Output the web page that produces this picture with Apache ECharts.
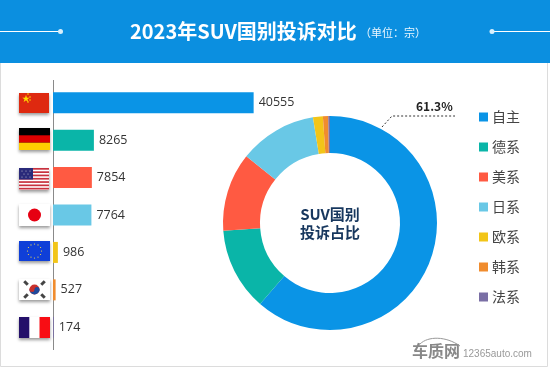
<!DOCTYPE html>
<html><head><meta charset="utf-8">
<style>html,body{margin:0;padding:0;background:#fff}#c{width:550px;height:368px}</style>
<script src="https://cdn.jsdelivr.net/npm/echarts@6/dist/echarts.min.js"></script>
</head><body><div id="c"></div>
<script>
const categories = ['自主','德系','美系','日系','欧系','韩系','法系'];
const complaints = [40555,8265,7854,7764,986,527,174];
const palette = ['#0a94e6','#0ab5a8','#ff5a42','#69c8e6','#f2c518','#f08c2e','#7a6fa5'];
const titleText = '2023年SUV国别投诉对比';
const unitText = '（单位：宗）';
const centerText = 'SUV国别\n投诉占比';
const total = complaints.reduce((a,b)=>a+b,0);
const shareText = (complaints[0]/total*100).toFixed(1)+'%';
const FONT = '"Noto Sans CJK SC","Noto Sans",sans-serif';

const shadow = {shadowBlur:3, shadowColor:'rgba(0,0,0,.4)', shadowOffsetY:2, shadowOffsetX:0};
function rect(x,y,w,h,fill,extra){return {type:'rect',silent:true,shape:{x,y,width:w,height:h},style:Object.assign({fill},extra||{})};}
function circle(cx,cy,r,fill){return {type:'circle',silent:true,shape:{cx,cy,r},style:{fill}};}
const g = [];
// page frame and header
g.push(rect(0.5,0.5,547,366,'#fff',{stroke:'#dcdcdc',lineWidth:1}));
g.push(rect(0,0,550,63,'#0b8fe0'));
g.push({type:'line',silent:true,shape:{x1:0,y1:31.5,x2:60,y2:31.5},style:{stroke:'#fff',lineWidth:1}});
g.push({type:'line',silent:true,shape:{x1:492,y1:31.5,x2:550,y2:31.5},style:{stroke:'#fff',lineWidth:1}});
g.push(circle(60.5,31.5,2.5,'#d8effc'));g.push(circle(492,31.5,2.5,'#d8effc'));
g.push({type:'text',silent:true,style:{x:130,y:31,text:titleText,fill:'#fff',font:'bold 20px '+FONT,verticalAlign:'middle'}});
g.push({type:'text',silent:true,style:{x:360,y:33,text:unitText,fill:'#eaf6fe',font:'11px '+FONT,verticalAlign:'middle'}});
// axis rule
g.push({type:'line',silent:true,shape:{x1:53.5,y1:80,x2:53.5,y2:350},style:{stroke:'#8a8a8a',lineWidth:1}});
// flags
g.push(rect(19,93,30,20,'#de2910',shadow));
g.push({type:'text',silent:true,style:{x:22,y:94,text:'★',fill:'#ffde00',font:'8px '+FONT}});
[[28,94],[30,97],[30,100],[28,102]].forEach(p=>g.push(circle(p[0],p[1],.8,'#ffde00')));
g.push(rect(19,128,31,22,'#000',shadow));g.push(rect(19,135.3,31,7.4,'#dd0000'));g.push(rect(19,142.7,31,7.3,'#ffce00'));
g.push(rect(19,168,30,22,'#fff',shadow));
for(let i=0;i<7;i+=1)g.push(rect(19,168+i*3.3,30,1.7,'#c8313e'));
g.push(rect(19,168,14,11.5,'#2a2a7a'));
[[22,171],[26,171],[30,171],[24,174],[28,174],[22,177],[26,177],[30,177]].forEach(p=>g.push(circle(p[0],p[1],.5,'#ddd')));
g.push(rect(19,204,31,22,'#fff',shadow));g.push(circle(34.5,215,6.5,'#e60012'));
g.push(rect(19,241,31,20,'#0f3fd8',shadow));
for(let i=0;i<12;i+=1){const a=i/12*Math.PI*2;g.push(circle(34.5+7*Math.cos(a),251+7*Math.sin(a),.6,'#ffe14a'));}
g.push(rect(19,279,31,21,'#fff',shadow));
g.push(circle(34.5,289.5,5,'#c9302c'));
g.push({type:'sector',silent:true,shape:{cx:34.5,cy:289.5,r:5,r0:0,startAngle:0,endAngle:Math.PI},style:{fill:'#1f4a9c'}});
g.push(circle(32,289.5,2.5,'#c9302c'));g.push(circle(37,289.5,2.5,'#1f4a9c'));
[[26,283],[43,283],[26,296],[43,296]].forEach(p=>g.push({type:'rect',silent:true,rotation:(p[0]<30)===(p[1]<290)?-Math.PI/4:Math.PI/4,originX:p[0],originY:p[1],shape:{x:p[0]-2.5,y:p[1]-1.5,width:5,height:3},style:{fill:'#444'}}));
g.push(rect(19,317,31,21,'#fff',shadow));g.push(rect(19,317,10.3,21,'#24106a'));g.push(rect(39.5,317,10.5,21,'#f80d14'));
// pie callout
g.push({type:'polyline',silent:true,shape:{points:[[382,127],[392,116],[455,116]]},style:{stroke:'#333',lineWidth:1,lineDash:[2,2],fill:'none'}});
g.push({type:'text',silent:true,style:{x:416,y:106,text:shareText,fill:'#222',font:'bold 12px '+FONT,verticalAlign:'middle'}});
// watermark
g.push({type:'text',silent:true,style:{x:412,y:351,text:'车质网',fill:'#888',font:'bold 16px '+FONT,verticalAlign:'middle'}});
g.push({type:'text',silent:true,style:{x:463,y:354,text:'12365auto.com',fill:'#999',font:'10px "Liberation Sans",sans-serif',verticalAlign:'middle'}});
g.push({type:'bezierCurve',silent:true,shape:{x1:420,y1:344,cpx1:428,cpy1:336,cpx2:446,cpy2:336,x2:460,y2:346},style:{stroke:'#999',lineWidth:1,fill:'none'}});

const chart = echarts.init(document.getElementById('c'),null,{renderer:'canvas'});
chart.setOption({
  animation:false,
  backgroundColor:'#fff',
  color:palette,
  graphic:{elements:g},
  grid:{left:53,top:84,width:282,height:262},
  xAxis:{type:'value',min:0,max:57000,show:false},
  yAxis:{type:'category',data:categories,inverse:true,axisLine:{show:false},axisTick:{show:false},axisLabel:{show:false}},
  legend:{orient:'vertical',left:479,top:110,padding:0,icon:'rect',itemWidth:9,itemHeight:9,itemGap:16,data:categories,selectedMode:false,
    textStyle:{fontFamily:FONT,fontSize:14,color:'#444',padding:[0,0,0,-1]}},
  series:[
    {type:'bar',data:complaints.map((v,i)=>({value:v,itemStyle:{color:palette[i]}})),barWidth:21,z:3,
     label:{show:true,position:'right',distance:5,color:'#333',fontSize:12.5,fontFamily:'"Open Sans",sans-serif'}},
    {type:'pie',center:[330,223],radius:[70,107],startAngle:90,clockwise:true,z:3,
     data:categories.map((n,i)=>({name:n,value:complaints[i],itemStyle:{color:palette[i]}})),
     label:{show:true,position:'center',formatter:centerText,color:'#17375e',fontSize:15,fontWeight:'bold',fontFamily:FONT,lineHeight:18},
     labelLine:{show:false},emphasis:{disabled:true},silent:true}
  ]
});
</script></body></html>
